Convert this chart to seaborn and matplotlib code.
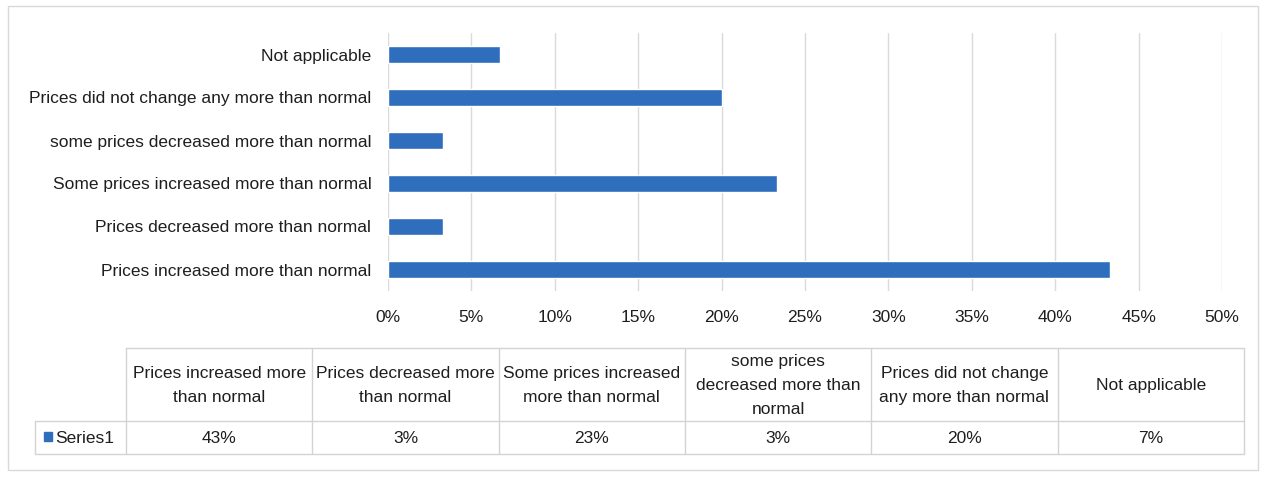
import matplotlib
matplotlib.use("Agg")
import matplotlib.pyplot as plt
import seaborn as sns
import pandas as pd
from matplotlib.patches import Rectangle

# ---- data (table order) ----
categories = [
    "Prices increased more than normal",
    "Prices decreased more than normal",
    "Some prices increased more than normal",
    "some prices decreased more than normal",
    "Prices did not change any more than normal",
    "Not applicable",
]
table_headers = [
    "Prices increased more\nthan normal",
    "Prices decreased more\nthan normal",
    "Some prices increased\nmore than normal",
    "some prices\ndecreased more than\nnormal",
    "Prices did not change\nany more than normal",
    "Not applicable",
]
values = [43.3, 3.3, 23.3, 3.3, 20.0, 6.7]
series_name = "Series1"
x_ticks = [0, 5, 10, 15, 20, 25, 30, 35, 40, 45, 50]

sns.set_theme(style="white")
FONT = ["Liberation Sans Narrow", "Liberation Sans", "DejaVu Sans"]
plt.rcParams["font.family"] = FONT

BAR = "#2F6EBD"
TXT = "#1E1E1E"
W, H = 1268, 479
fig = plt.figure(figsize=(W / 100, H / 100), dpi=100)
fig.patch.set_facecolor("white")

# chart axes
x0, x1, y0, y1 = 388, 1222, 33, 291
ax = fig.add_axes([x0 / W, 1 - y1 / H, (x1 - x0) / W, (y1 - y0) / H])
df = pd.DataFrame({"cat": categories[::-1], "val": values[::-1]})
sns.barplot(data=df, x="val", y="cat", orient="h", color=BAR, width=0.4,
            saturation=1, ax=ax, zorder=3)
ax.set_xlim(0, 50)
ax.set_xticks(x_ticks)
ax.set_xticklabels([f"{t}%" for t in x_ticks], fontsize=12.5, color=TXT)
ax.tick_params(axis="x", pad=14, length=0)
ax.tick_params(axis="y", pad=12, length=0, labelsize=12.5, labelcolor=TXT)
ax.set_xlabel("")
ax.set_ylabel("")
for s in ax.spines.values():
    s.set_visible(False)
ax.grid(axis="x", color="#DADADA", linewidth=1, zorder=0)
ax.set_axisbelow(True)

# overlay axes in pixel coordinates for frame and data table
ov = fig.add_axes([0, 0, 1, 1], zorder=-1)
ov.set_xlim(0, W)
ov.set_ylim(H, 0)
ov.axis("off")
ov.add_patch(Rectangle((8, 6), 1250, 464, fill=False, edgecolor="#D9D9D9", lw=1))

tov = fig.add_axes([0, 0, 1, 1])
tov.set_xlim(0, W)
tov.set_ylim(H, 0)
tov.axis("off")
tov.patch.set_alpha(0)

lc = "#D3D3D3"
tl, colw = 126, 186.3
ttop, tmid, tbot = 348, 421, 454
n = len(categories)
tr = tl + n * colw
tov.plot([tl, tr], [ttop, ttop], color=lc, lw=1)
tov.plot([35, tr], [tmid, tmid], color=lc, lw=1)
tov.plot([35, tr], [tbot, tbot], color=lc, lw=1)
tov.plot([35, 35], [tmid, tbot], color=lc, lw=1)
for i in range(n + 1):
    xx = tl + i * colw
    tov.plot([xx, xx], [ttop, tbot], color=lc, lw=1)
for i, (h, v) in enumerate(zip(table_headers, values)):
    cx = tl + (i + 0.5) * colw
    tov.text(cx, (ttop + tmid) / 2 + 1, h, ha="center", va="center",
             fontsize=12.5, color=TXT, linespacing=1.72)
    tov.text(cx, (tmid + tbot) / 2 + 1, f"{v:.0f}%", ha="center", va="center",
             fontsize=12.5, color=TXT)
tov.add_patch(Rectangle((44, 432), 8, 9, color=BAR))
tov.text(55, (tmid + tbot) / 2 + 1, series_name, ha="left", va="center",
         fontsize=12.5, color=TXT)

fig.savefig("out.png", dpi=100, facecolor="white")
